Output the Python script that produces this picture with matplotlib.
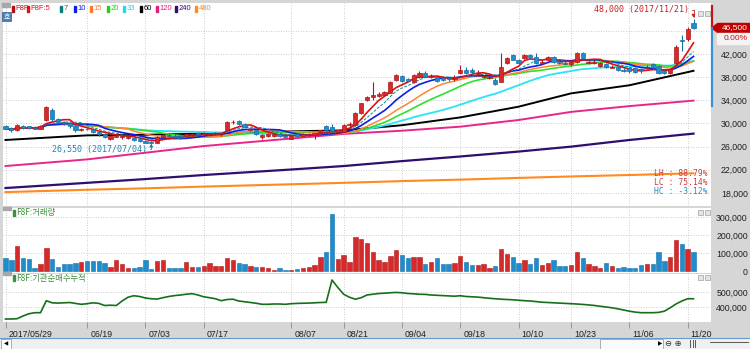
import numpy as np
import pandas as pd
import matplotlib
matplotlib.use('Agg')
import matplotlib.pyplot as plt
from matplotlib.patches import Rectangle, Polygon
from matplotlib.transforms import ScaledTranslation

plt.rcParams['font.family'] = ['Liberation Sans', 'DejaVu Sans']
KR = ['Noto Sans CJK KR', 'DejaVu Sans']

# 거래일 (휴장일 제외)
holidays = ['2017-06-06', '2017-08-15', '2017-10-02', '2017-10-03', '2017-10-04',
            '2017-10-05', '2017-10-06', '2017-10-09']
days = pd.bdate_range('2017-05-29', '2017-11-21')
days = days[~days.isin(pd.to_datetime(holidays))]

# 일봉 시가/고가/저가/종가
open_ = [29500, 29200, 28800, 29600, 29500, 29300, 29100, 30600, 32400, 30700,
         30300, 30000, 29500, 28800, 29100, 29000, 28500, 28100, 27300, 27700,
         27600, 27500, 27500, 27400, 26900, 26800, 26700, 27700, 28000, 27900,
         27900, 27900, 28000, 28300, 28100, 28100, 28200, 28100, 28900, 30200,
         30400, 29900, 28800, 28900, 27600, 27900, 27900, 28100, 27900, 27400,
         28100, 27900, 28000, 28000, 28600, 29500, 29400, 28600, 28600, 29700,
         29800, 31800, 34100, 34600, 34700, 34900, 35300, 37500, 38200, 37700,
         37200, 38100, 38800, 38100, 38100, 37800, 37900, 37600, 38700, 39300,
         39200, 38600, 38100, 37800, 37500, 37200, 40400, 41800, 41000, 41300,
         41800, 41400, 40500, 41000, 41500, 40600, 40500, 40300, 40600, 42100,
         40400, 40500, 39900, 40300, 39600, 39800, 39300, 39600, 39500, 39400,
         39500, 40200, 40000, 39100, 38700, 40400, 44400, 44600, 47300]
high = [29700, 29400, 29900, 29800, 29600, 29500, 29700, 33000, 32600, 31000,
        30500, 30300, 29700, 29300, 29400, 29200, 28700, 28300, 28000, 28100,
        28000, 27900, 27700, 27600, 27200, 27000, 27900, 28200, 28300, 28200,
        28000, 28300, 28400, 28500, 28500, 28400, 28500, 28400, 30400, 30600,
        30600, 30100, 29200, 29100, 28100, 28300, 28200, 28300, 28100, 28000,
        28300, 28400, 28300, 28400, 28900, 29800, 29900, 28900, 29900, 30200,
        32000, 33600, 34700, 37200, 35500, 35600, 37400, 38600, 38400, 37900,
        38600, 39000, 39000, 38500, 38300, 38200, 38100, 38300, 40100, 39700,
        39600, 39300, 38400, 38400, 37800, 42200, 41500, 42000, 41200, 42000,
        42000, 42200, 41000, 41600, 41700, 40900, 40800, 40800, 42300, 42300,
        40800, 40900, 40600, 40400, 40100, 40000, 39600, 39800, 39700, 39600,
        40100, 40500, 40100, 39300, 39500, 43500, 45200, 46700, 48000]
low = [29000, 28600, 28700, 29100, 29000, 29000, 29000, 30400, 30500, 30100,
       29800, 29300, 28600, 28700, 28800, 28300, 27900, 27500, 27200, 27600,
       27400, 27300, 27000, 26800, 26600, 26550, 26600, 27500, 27600, 27500,
       27400, 27800, 27900, 27900, 27900, 27900, 28000, 27900, 28800, 29900,
       29700, 29200, 28700, 28000, 27400, 27700, 27700, 27600, 27600, 27300,
       27800, 27900, 27800, 27300, 28400, 28600, 28500, 28500, 28500, 29400,
       29700, 31600, 33900, 34000, 34500, 34700, 35200, 37300, 37100, 37300,
       37000, 37900, 38000, 37800, 37200, 37300, 37400, 37300, 38600, 38500,
       38600, 38300, 37800, 37600, 36700, 37100, 40200, 40900, 40300, 41100,
       41200, 40200, 40200, 40900, 40400, 40300, 40100, 40000, 40500, 41100,
       40200, 40300, 39800, 39600, 39500, 39000, 38900, 38800, 38700, 38800,
       39600, 39400, 38600, 38500, 38600, 40300, 42500, 44300, 46300]
close = [29100, 28800, 29700, 29300, 29200, 29100, 29500, 32800, 30700, 30300,
         30000, 29500, 28800, 29100, 29000, 28500, 28100, 27700, 27900, 27900,
         27800, 27700, 27200, 26900, 26700, 26700, 27700, 28000, 27800, 27600,
         27600, 28200, 28200, 28100, 28300, 28200, 28400, 28300, 30200, 30300,
         29900, 29400, 29000, 28100, 28000, 28100, 28100, 27800, 27700, 27900,
         27900, 28100, 28200, 28300, 28800, 28800, 28700, 28800, 29700, 29900,
         31800, 33500, 34600, 34900, 35100, 35400, 37200, 38400, 37300, 37400,
         38400, 38800, 38100, 38200, 37400, 37500, 37700, 37900, 39200, 38700,
         38900, 38800, 38200, 38000, 36900, 39800, 41300, 41000, 40400, 41800,
         41400, 40500, 40600, 41500, 40600, 40500, 40300, 40700, 42100, 41300,
         40700, 40700, 40500, 39800, 39700, 39200, 39100, 39000, 38900, 39200,
         39700, 39800, 38800, 38700, 39400, 43200, 44200, 46300, 46500]

# 거래량
volume = [72000, 61000, 139000, 72000, 67000, 17000, 39000, 128000, 67000, 22000,
          39000, 39000, 44000, 50000, 56000, 56000, 53000, 47000, 22000, 61000,
          39000, 16000, 17000, 22000, 61000, 11000, 56000, 61000, 17000, 17000,
          14000, 50000, 22000, 22000, 30000, 45000, 28000, 30000, 70000, 60000,
          45000, 40000, 28000, 22000, 22000, 14000, 8000, 14000, 8000, 8000,
          12000, 17000, 22000, 33000, 80000, 105000, 317000, 66000, 89000, 52000,
          189000, 177000, 157000, 105000, 61000, 52000, 83000, 117000, 89000, 72000,
          78000, 78000, 39000, 50000, 72000, 37000, 41000, 44000, 83000, 50000,
          35000, 35000, 37000, 14000, 28000, 120000, 95000, 80000, 45000, 60000,
          40000, 75000, 35000, 45000, 60000, 30000, 28000, 35000, 105000, 70000,
          40000, 30000, 18000, 44000, 28000, 14000, 22000, 14000, 17000, 35000,
          39000, 37000, 105000, 56000, 80000, 172000, 150000, 122000, 107000]

# 기관 순매수 누적
inst_cum = [320000, 320000, 322000, 340000, 355000, 362000, 362000, 442000, 428000, 426000,
            428000, 430000, 424000, 418000, 422000, 428000, 424000, 410000, 412000, 410000,
            440000, 465000, 475000, 470000, 460000, 455000, 453000, 462000, 470000, 476000,
            480000, 485000, 489000, 480000, 468000, 462000, 455000, 442000, 450000, 452000,
            440000, 435000, 430000, 425000, 418000, 418000, 420000, 420000, 418000, 422000,
            424000, 425000, 426000, 428000, 430000, 431000, 580000, 530000, 485000, 465000,
            452000, 462000, 480000, 485000, 490000, 492000, 495000, 497000, 495000, 490000,
            488000, 485000, 484000, 480000, 478000, 476000, 474000, 472000, 475000, 470000,
            468000, 466000, 462000, 458000, 455000, 452000, 450000, 448000, 445000, 442000,
            440000, 436000, 432000, 430000, 428000, 426000, 424000, 422000, 420000, 417000,
            414000, 410000, 405000, 400000, 395000, 388000, 380000, 372000, 366000, 362000,
            362000, 362000, 364000, 372000, 395000, 420000, 440000, 455000, 455000]

# 장기 이동평균 (기준일별 값)
long_ma_dates = ['2017-05-29', '2017-06-19', '2017-07-03', '2017-07-17', '2017-08-07', '2017-08-21',
                 '2017-09-04', '2017-09-18', '2017-10-10', '2017-10-23', '2017-11-06', '2017-11-21']
ma60 = [27150, 27950, 28050, 28250, 28650, 28800, 29700, 31050, 32900, 35200, 36600, 39100]
ma120 = [22650, 23800, 24950, 26100, 27400, 28200, 28750, 29450, 30600, 32000, 33000, 33950]
ma240 = [18850, 19750, 20400, 21100, 22050, 22650, 23500, 24300, 25150, 26000, 27150, 28250]
ma480 = [18150, 18550, 18800, 19100, 19500, 19750, 20050, 20300, 20600, 20850, 21100, 21400]

tick_dates = ['2017-05-29', '2017-06-19', '2017-07-03', '2017-07-17', '2017-08-07', '2017-08-21',
              '2017-09-04', '2017-09-18', '2017-10-10', '2017-10-23', '2017-11-06', '2017-11-20']

W, H = 750, 349
UP, DOWN = '#d62a2a', '#1f8dcc'
UP_EDGE, DOWN_EDGE = '#b01818', '#1570a8'
GRID = dict(color='#bdbdbd', lw=0.6, ls=(0, (1, 2)))


def rect(x0, y0, x1, y1):
    # 픽셀 좌표(위→아래) → figure 좌표
    return [x0 / W, 1 - y1 / H, (x1 - x0) / W, (y1 - y0) / H]


def fpt(x, y):
    return x / W, 1 - y / H


def box(x0, y0, w, h, **kw):
    # (x0, y0) = 좌상단 픽셀
    fig.patches.append(Rectangle((x0 / W, 1 - (y0 + h) / H), w / W, h / H,
                                 transform=fig.transFigure, **kw))


n = len(close)
xi = np.arange(n)
o = np.array(open_); hi = np.array(high); lo = np.array(low); c = np.array(close)
up = c >= o
idx_of = {d.strftime('%Y-%m-%d'): i for i, d in enumerate(days)}
tick_idx = [idx_of[d] for d in tick_dates]
tick_lbl = ['2017/05/29'] + [pd.Timestamp(d).strftime('%m/%d') for d in tick_dates[1:]]
ma_idx = [idx_of[d] for d in long_ma_dates]

fig = plt.figure(figsize=(W / 100, H / 100), dpi=100)
fig.patch.set_facecolor('#d6d6d6')

ax = fig.add_axes(rect(3, 3, 711, 206))
axv = fig.add_axes(rect(3, 208, 711, 273))
axl = fig.add_axes(rect(3, 274, 711, 322))

XL = (-0.43, 121.0)
for a in (ax, axv, axl):
    a.set_facecolor('white')
    a.set_xlim(*XL)
    for s in a.spines.values():
        s.set_visible(False)
    a.yaxis.tick_right()
    a.tick_params(axis='y', length=0, pad=26.5, labelsize=6.3, labelcolor='#202020')
    for t in tick_idx:
        a.axvline(t, zorder=0, **GRID)

# ---- 가격 ----
ax.set_ylim(15748, 50808)
pticks = list(range(18000, 42001, 4000))
ax.set_yticks(pticks)
ax.set_yticklabels([f'{p:,}' for p in pticks], ha='right')
for p in pticks + [46000]:
    ax.axhline(p, zorder=0, **GRID)
ax.set_xticks([])

ax.plot(ma_idx, ma480, color='#ff8a1e', lw=1.5, zorder=2)
ax.plot(ma_idx, ma240, color='#2e0f6e', lw=1.6, zorder=2)
ax.plot(ma_idx, ma120, color='#e8268a', lw=1.4, zorder=2)
ax.plot(ma_idx, ma60, color='black', lw=1.4, zorder=2)

cs = pd.Series(close, dtype=float)
ma_style = [(33, '#28e4f4', '-', 1.3), (20, '#2ee02e', '-', 1.2), (15, '#ff8436', '-', 1.1),
            (10, '#0a1ee6', '-', 1.2), (7, '#0b8c8c', (0, (3, 1.5)), 0.7), (5, '#e01010', '-', 1.2)]
for w, col, ls, lw in ma_style:
    ax.plot(xi, cs.rolling(w, min_periods=1).mean(), color=col, ls=ls, lw=lw, zorder=3)

ax.vlines(xi, lo, hi, colors=np.where(up, UP_EDGE, DOWN_EDGE), lw=0.8, zorder=4)
body_lo = np.minimum(o, c)
body_h = np.maximum(np.abs(c - o), 90)
ax.bar(xi, body_h, bottom=body_lo, width=0.72, color=np.where(up, UP, DOWN),
       edgecolor=np.where(up, UP_EDGE, DOWN_EDGE), lw=0.5, zorder=5)

ih = int(np.argmax(hi)); il = int(np.argmin(lo))
ax.annotate(f'{hi[ih]:,} ({days[ih].strftime("%Y/%m/%d")})', xy=(ih, hi[ih]),
            xytext=(-3, 7), textcoords='offset points', ha='right', va='center',
            fontsize=6.0, color='#c82020', family='DejaVu Sans Mono',
            arrowprops=dict(arrowstyle='-|>', mutation_scale=5, color='#c82020', lw=0.6,
                            connectionstyle='angle,angleA=0,angleB=90,rad=0', shrinkA=0, shrinkB=1))
ax.annotate(f'{lo[il]:,} ({days[il].strftime("%Y/%m/%d")})', xy=(il, lo[il]),
            xytext=(-3, -4), textcoords='offset points', ha='right', va='center',
            fontsize=6.0, color='#1f80b4', family='DejaVu Sans Mono',
            arrowprops=dict(arrowstyle='-|>', mutation_scale=5, color='#1f80b4', lw=0.6,
                            connectionstyle='angle,angleA=0,angleB=90,rad=0', shrinkA=0, shrinkB=0))

lc = (c[-1] - lo[il]) / lo[il] * 100
hc = (c[-1] - hi[ih]) / hi[ih] * 100
for k, (txt, col) in enumerate([('LH : 88.79%', '#d03a3a'), (f'LC : {lc:.2f}%', '#d03a3a'),
                                ('HC : %.2f%%' % hc, '#2a8ac0')]):
    fig.text(*fpt(708, 174 + 8.5 * k), txt, ha='right', va='center', fontsize=5.8,
             color=col, family='DejaVu Sans Mono')

# ---- 거래량 ----
axv.set_ylim(-11100, 350000)
vticks = [0, 100000, 200000, 300000]
axv.set_yticks(vticks)
axv.set_yticklabels([f'{v:,}' for v in vticks], ha='right')
for v in vticks[1:]:
    axv.axhline(v, zorder=0, **GRID)
axv.bar(xi, volume, width=0.75, color=np.where(up, UP, DOWN),
        edgecolor=np.where(up, UP_EDGE, DOWN_EDGE), lw=0.4, zorder=3)
axv.set_xticks([])

# ---- 기관 순매수 누적 ----
axl.set_ylim(300000, 620000)
lticks = [400000, 500000]
axl.set_yticks(lticks)
axl.set_yticklabels([f'{v:,}' for v in lticks], ha='right')
for v in lticks:
    axl.axhline(v, zorder=0, **GRID)
axl.plot(xi, inst_cum, color='#16701a', lw=1.2, zorder=3)
axl.set_xticks(tick_idx)
axl.set_xticklabels(tick_lbl, ha='left', fontsize=6.3, color='#202020')
axl.tick_params(axis='x', length=4, width=0.6, color='#8c8c8c', pad=1.5, direction='out')
shift = ScaledTranslation(3 / 100, 0, fig.dpi_scale_trans)
for lab in axl.get_xticklabels():
    lab.set_transform(lab.get_transform() + shift)

# ---- 상단 범례 ----
legend = [('F8F', '#b01010', 12), ('F8F:5', '#e01010', 27), ('7', '#0b7a7a', 60),
          ('10', '#1020e0', 74), ('15', '#ff7a2a', 90), ('20', '#20d020', 107),
          ('33', '#20d8f0', 123), ('60', '#000000', 140), ('120', '#e0207a', 156),
          ('240', '#2e0f6e', 175), ('480', '#ff8a1e', 195)]
for name, col, x0 in legend:
    box(x0, 6, 2, 6, color=col)
    fig.text(*fpt(x0 + 3.5, 9), name, ha='left', va='center', fontsize=5.5, color=col)

box(2, 3, 8, 4, color='#a8a8a8')
box(2, 12, 9, 9, facecolor='#4f7fb8', edgecolor='#2e5f98', lw=0.5)
fig.text(*fpt(6.5, 16.5), '호', ha='center', va='center', fontsize=5.0, color='white',
         family=KR)

for y0, title in [(213, 'F8F:거래량'), (278, 'F8F:기관순매수누적')]:
    box(3, y0 - 6, 8, 3, color='#a8a8a8')
    box(13, y0 - 3, 1.5, 6, color='#3f8f3f')
    fig.text(*fpt(16, y0), title, ha='left', va='center', fontsize=6.0, color='#3f8f3f',
             family=KR)

# 패널 우상단 버튼
for yb in (11, 210, 275):
    for xb in (698, 705):
        box(xb, yb, 5, 5, facecolor='#e4e4e4', edgecolor='#a0a0a0', lw=0.5)

# 가격 범위 바
y_last = ax.transData.transform((0, c[-1]))[1]
y_top = ax.transData.transform((0, 50300))[1]
y_bot = ax.transData.transform((0, 33000))[1]
fig.add_artist(plt.Line2D([711.5 / W] * 2, [y_last / H, y_top / H], color='#c01818', lw=1.6))
fig.add_artist(plt.Line2D([711.5 / W] * 2, [y_bot / H, y_last / H], color='#3a90d0', lw=1.6))

# 현재가 표시
fig.patches.append(Polygon([(712 / W, y_last / H), (717 / W, (y_last + 4) / H),
                            (717 / W, (y_last - 4) / H)], closed=True,
                           transform=fig.transFigure, color='#c00000'))
fig.patches.append(Rectangle((717 / W, (y_last - 5) / H), 33 / W, 10 / H,
                             transform=fig.transFigure, color='#c00000'))
fig.text(748 / W, (y_last + 0.5) / H, f'{c[-1]:,}', ha='right', va='center', fontsize=6.0,
         color='white')
fig.patches.append(Rectangle((717 / W, (y_last - 16) / H), 33 / W, 11 / H,
                             transform=fig.transFigure, color='#f4f4f4'))
chg = (c[-1] - c[-1]) / c[-1] * 100
fig.text(748 / W, (y_last - 11) / H, f'{chg:.2f}%', ha='right', va='center', fontsize=6.0,
         color='#d01010')

# 하단 스크롤 바
box(0, 338, 750, 11, facecolor='#f0f0f0', edgecolor='none')
fig.add_artist(plt.Line2D([0, 1], [1 - 337.5 / H] * 2, color='#6a9ad0', lw=0.8))
box(1, 339, 10, 10, facecolor='white', edgecolor='#909090', lw=0.5)
fig.text(*fpt(6, 344), '◀', ha='center', va='center', fontsize=4, color='black',
         family='DejaVu Sans')
box(600, 339, 63, 10, facecolor='#fafafa', edgecolor='#909090', lw=0.5)
fig.text(*fpt(660, 344), '▶', ha='center', va='center', fontsize=4, color='black',
         family='DejaVu Sans')
fig.text(*fpt(665, 344), '⊖ ⊕', ha='left', va='center', fontsize=6, color='#303030',
         family='DejaVu Sans')
for xb in (690, 692.5, 695):
    fig.add_artist(plt.Line2D([xb / W] * 2, [1 - 347 / H, 1 - 340 / H], color='#404040', lw=0.6))
fig.add_artist(plt.Line2D([710 / W, 748 / W], [1 - 342 / H] * 2, color='#404040', lw=0.6))

fig.savefig('out.png', dpi=100, facecolor=fig.get_facecolor())
